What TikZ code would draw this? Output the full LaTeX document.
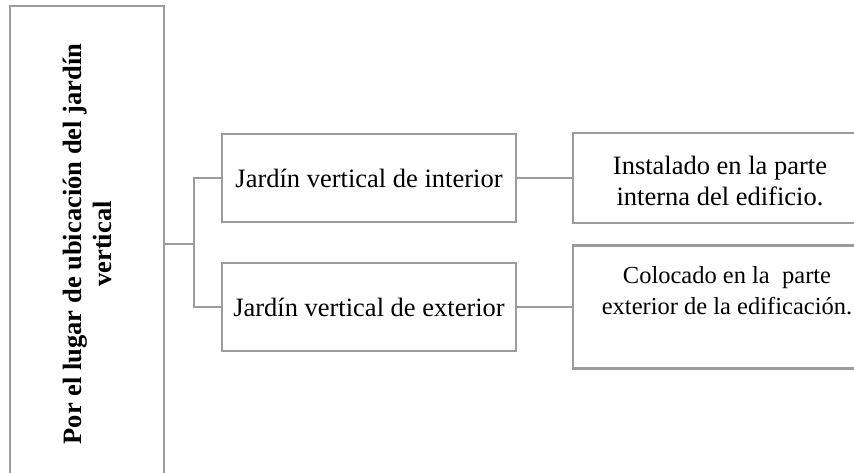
\documentclass[tikz,border=0pt]{standalone}
\usepackage{fontspec}
\setmainfont{Liberation Serif}
\definecolor{linegray}{RGB}{155,155,155}
\begin{document}
\begin{tikzpicture}[x=1pt,y=-1pt,
  box/.style={draw=linegray,line width=2.2pt,rectangle,inner sep=0pt,fill=white},
  txt/.style={font=\fontsize{26.5}{31}\selectfont,align=center,inner sep=0pt},
  conn/.style={draw=linegray,line width=2.2pt}]
\useasboundingbox (0,0) rectangle (854,472);
\clip (0,0) rectangle (854,472);
% left big box (rotated)
\node[box,rotate=90,minimum width=476pt,minimum height=154pt,
      font=\fontsize{26.5}{30}\selectfont\bfseries,align=center] (L) at (87,244)
  {Por el lugar de ubicación del jardín\\vertical};
% middle boxes
\node[box,txt,minimum width=294pt,minimum height=88pt] (A) at (369,178) {Jardín vertical de interior};
\node[box,txt,minimum width=294pt,minimum height=88pt] (B) at (369,307) {Jardín vertical de exterior};
% right boxes
\node[box,minimum width=296pt,minimum height=90pt] (RA) at (721,178) {};
\node[txt] (RAt) at (720,181) {Instalado en la parte\\interna del edificio.};
\node[box,minimum width=296pt,minimum height=123pt] (RB) at (721,307) {};
\node[txt,font=\fontsize{24.5}{31}\selectfont] (RBt) at (727,291) {Colocado en la~~parte\\exterior de la edificación.};
% connectors
\draw[conn] (L.south) -- ++(29,0) coordinate (j);
\draw[conn] (j) |- (A.west);
\draw[conn] (j) |- (B.west);
\draw[conn] (A.east) -- (RA.west);
\draw[conn] (B.east) -- (RB.west);
\end{tikzpicture}
\end{document}
